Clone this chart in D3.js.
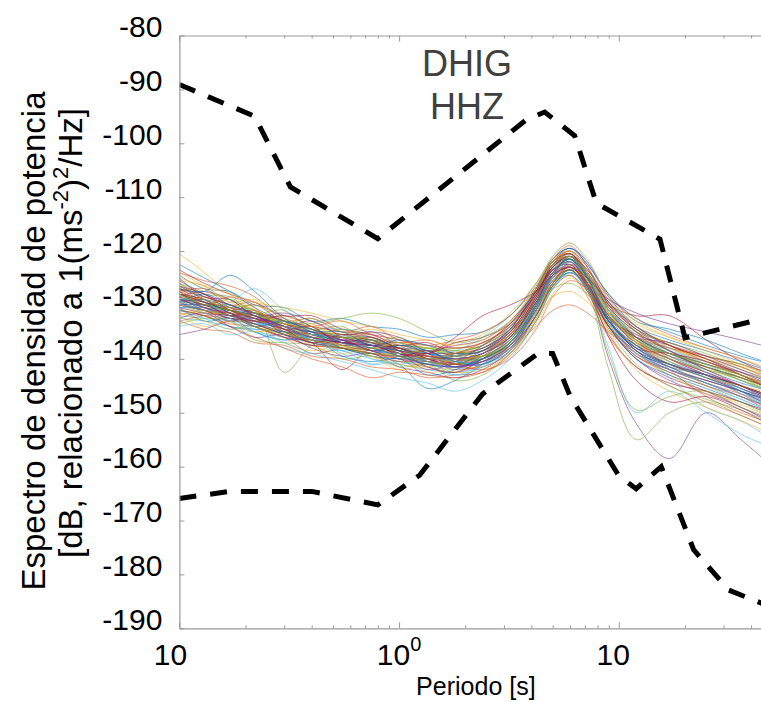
<!DOCTYPE html>
<html><head><meta charset="utf-8">
<script src="https://cdn.jsdelivr.net/npm/d3@7"></script>
<style>html,body{margin:0;padding:0;background:#fff;} svg{display:block;font-family:"Liberation Sans",Arial,Helvetica,sans-serif;}</style>
</head><body><svg id="c" width="761" height="702"></svg>
<script>
// ---------------- data ----------------
const periods = [0.1, 0.13, 0.17, 0.22, 0.3, 0.4, 0.55, 0.75, 1.0, 1.35, 1.8, 2.4, 3.2, 4.2, 5.0, 6.0, 7.2, 9.0, 12, 17, 25, 36, 50];
const psdCurves = [
 [-128,-129.5,-131,-131.5,-133,-135.5,-136,-136,-138,-139,-139.5,-138.5,-135,-128,-123,-121,-125,-131,-136,-139,-141,-143,-145],
 [-131,-132,-133.5,-134,-136,-137.5,-138,-139.5,-140.5,-141.5,-142.5,-141,-138.5,-132,-126,-123.5,-127,-133,-139,-142,-144.5,-146.5,-148.5],
 [-127,-129,-131,-133,-134,-134.5,-137,-138,-137.5,-139,-141,-140,-136,-128.5,-122.5,-120.5,-124.5,-131.5,-135.5,-138,-140.5,-143,-145],
 [-130,-130,-132,-132,-135,-137,-136,-137,-139.5,-140.5,-139,-137.5,-134.5,-130,-125.5,-123,-126,-132,-138.5,-141.5,-143,-145.5,-147.5],
 [-126.5,-128.5,-130,-131.5,-133.5,-135,-135.5,-137,-137.5,-138,-139.5,-139.5,-137,-130.5,-124,-121.5,-124,-129.5,-134,-137.5,-140,-142,-144.5],
 [-132,-132.5,-133,-133.5,-135.5,-136.5,-138.5,-138,-139.5,-141,-141,-140,-137.5,-131,-125.5,-123.5,-127.5,-134,-138,-141,-143.5,-146,-149],
 [-128.5,-131,-132,-131.5,-133,-136,-137,-137.5,-137,-139,-140.5,-139,-135.5,-128,-122,-120,-124,-131,-136.5,-139.5,-141.5,-143.5,-145.5],
 [-129.5,-129,-130.5,-133,-135,-135,-136.5,-138.5,-139,-138.5,-139.5,-140,-137,-131,-126,-124,-126.5,-132,-137,-139,-142,-144.5,-146],
 [-124,-125.5,-126.5,-128.5,-133,-135,-136,-136.5,-138.5,-140,-139.5,-138,-134.5,-127.5,-122.5,-121.5,-126,-133,-138,-141,-143,-145,-147],
 [-120.5,-124,-128,-131,-134,-135.5,-137.5,-138,-138,-139.5,-140.5,-139.5,-136.5,-130,-124.5,-122,-125,-130.5,-135,-138,-140.5,-142.5,-144],
 [-135.5,-134.5,-133,-133.5,-135,-136,-137,-138.5,-139,-140,-141.5,-140.5,-137,-130,-124.5,-122.5,-126,-133,-137.5,-141,-143,-145,-147.5],
 [-128,-130,-131,-131,-142.5,-137.5,-136,-136.5,-138,-138.5,-139,-138,-135.5,-129.5,-125,-123,-126.5,-132.5,-136,-139,-141.5,-143.5,-146],
 [-129.5,-131,-129.5,-127,-131,-134,-134.5,-135,-137,-139,-138.5,-136,-132,-127,-123,-121.5,-125.5,-132,-136,-138.5,-140.5,-142.5,-144.5],
 [-130.5,-131.5,-132,-133.5,-135.5,-137,-142,-138,-139,-141,-140,-139.5,-136.5,-130,-125,-123,-126.5,-133,-137.5,-140,-142.5,-145,-147.5],
 [-129,-130.5,-132.5,-133,-134,-136.5,-138,-139,-141,-145.5,-144,-141,-137,-131,-126,-123.5,-127,-133,-138,-141.5,-144,-146,-148],
 [-131.5,-132,-132.5,-134,-136,-137.5,-138,-139,-140,-140.5,-141,-140,-138,-134,-131,-130,-131.5,-135,-139,-142,-144,-146,-148],
 [-127.5,-129.5,-131,-132.5,-134,-135,-136,-137.5,-138.5,-139.5,-140,-139.5,-137.5,-132.5,-128.5,-127.5,-129.5,-133.5,-137,-139.5,-142,-144,-146.5],
 [-130,-131,-131.5,-132,-134,-136,-137,-137.5,-139,-139.5,-140.5,-139,-136,-129,-123.5,-121.5,-126,-140,-152,-158.5,-150,-155,-160],
 [-128,-129,-131,-133.5,-135,-135.5,-136.5,-138,-138.5,-140,-139.5,-138.5,-135.5,-128.5,-123,-121,-126.5,-142,-155,-150,-148,-150.5,-153],
 [-129,-130,-130.5,-132,-134,-136.5,-137.5,-137,-138,-139,-140,-140,-137,-130.5,-125,-122.5,-127,-138,-150,-146,-150,-154,-156.5],
 [-130,-131,-132.5,-133,-134.5,-135.5,-136,-137.5,-139,-140,-139.5,-138,-135,-129,-124.5,-123,-126,-130,-132,-132,-136.5,-140.5,-143],
 [-128.5,-130,-131,-132,-134.5,-136,-137.5,-138.5,-138,-138.5,-140.5,-140.5,-138,-132,-126.5,-123.5,-125,-129.5,-134,-136.5,-138.5,-140.5,-142.5],
 [-127,-128,-130.5,-132.5,-133.5,-135,-135.5,-136.5,-138.5,-140.5,-141,-139,-135,-127.5,-121.5,-119,-123,-131,-137.5,-141,-143.5,-145.5,-148],
 [-131,-131.5,-131,-133,-135.5,-135.5,-137,-139,-140,-139.5,-140,-140,-137.5,-131.5,-126,-124.5,-128,-134.5,-139.5,-143,-146,-148.5,-151],
 [-129.5,-131,-132.5,-132.5,-133.5,-135.5,-137,-137.5,-138,-140,-141.5,-141.5,-138.5,-130,-123,-120.5,-124.5,-132.5,-138.5,-142,-144.5,-147,-150],
 [-126,-127.5,-129,-131,-133.5,-134.5,-136,-136.5,-137,-138,-138.5,-137.5,-134,-127,-122,-120.5,-124.5,-130,-134.5,-137,-139,-141.5,-143.5],
 [-132.5,-133,-134,-135,-136,-137,-138.5,-140,-141,-142,-142.5,-141.5,-139,-133,-127,-124.5,-127.5,-134,-139,-142.5,-145,-147.5,-150],
 [-128,-129,-131.5,-133,-133,-134.5,-136.5,-138,-139,-139,-139,-138,-134.5,-127,-121.5,-119.5,-122,-128.5,-134,-137.5,-140,-143,-145.5],
 [-130,-130,-131,-132.5,-135,-136.5,-137,-136.5,-138,-140.5,-141.5,-140,-137,-131.5,-126.5,-124,-126,-131.5,-136,-139.5,-142.5,-145.5,-148],
 [-127.5,-129.5,-130.5,-131.5,-132.5,-134.5,-137,-138.5,-139.5,-140,-140,-139.5,-137.5,-132,-126,-122.5,-124.5,-129.5,-135,-140,-143,-146.5,-149.5],
 [-129,-131.5,-133,-133,-134,-135,-135.5,-137.5,-140,-141,-139.5,-137.5,-133.5,-126.5,-122,-121,-125.5,-132,-136,-138,-140,-141.5,-143.5],
 [-130.5,-130.5,-131.5,-134,-136,-136.5,-136.5,-137,-138.5,-139.5,-141,-141,-138,-131,-125,-122.5,-126.5,-134,-140,-144,-146.5,-149,-152],
 [-128,-130,-130,-131,-134,-137,-138,-138,-137.5,-138,-139,-138.5,-136,-130.5,-125.5,-123.5,-127,-133.5,-137.5,-139,-141,-143.5,-146.5],
 [-129.5,-130,-131.5,-133,-135.5,-136,-136.5,-138,-139.5,-141,-142,-140.5,-136.5,-129,-123,-120.5,-124,-131,-136,-140.5,-143.5,-146.5,-149],
 [-127,-128.5,-130,-131.5,-133,-134,-135,-135.5,-136.5,-137.5,-138,-137,-134,-128,-123.5,-122.5,-126.5,-132.5,-135.5,-137.5,-139.5,-141,-143],
 [-131,-132,-134,-134.5,-135,-136,-138,-139.5,-140,-140,-140.5,-139.5,-136.5,-129.5,-124,-121.5,-125,-133.5,-139,-141,-143,-145,-147.5],
 [-128.5,-129.5,-130.5,-131.5,-134.5,-136.5,-137.5,-137,-138,-140,-142,-141,-137.5,-130,-124,-122,-125.5,-132,-136.5,-142,-147,-150,-152],
 [-130,-131.5,-131.5,-132,-133.5,-135,-137.5,-139,-139,-138.5,-139,-139.5,-138,-133,-127,-124,-126,-131,-135.5,-138.5,-141,-143,-145],
 [-126.5,-129,-131.5,-132.5,-133.5,-135.5,-136.5,-137.5,-139,-140.5,-140.5,-138.5,-134.5,-127,-122,-120.5,-125,-132,-137,-140,-143,-146,-149],
 [-129,-130.5,-131,-132.5,-135,-136,-136,-137,-138.5,-139.5,-140,-140,-136.5,-129,-123.5,-121,-124,-130.5,-135,-138.5,-141.5,-144,-146],
 [-130.5,-130.5,-132,-133.5,-134,-135,-137,-138.5,-139,-139,-140.5,-139.5,-137,-131,-125,-122.5,-125.5,-131.5,-137,-143.5,-149,-151.5,-155],
 [-128,-129.5,-131,-132,-134,-136,-137,-137.5,-138,-140,-141,-139,-135.5,-128.5,-122.5,-120,-123,-130,-136,-139,-141.5,-143.5,-145.5],
 [-124.5,-127,-127.5,-130,-130.5,-133,-132.5,-134,-134.5,-136,-135.5,-135,-132,-126,-121.5,-119.5,-122.5,-128,-132.5,-135,-137.5,-139.5,-141],
 [-133,-134.5,-135,-137,-137.5,-139.5,-140,-141.5,-142,-143.5,-143,-142.5,-139.5,-133,-127,-124.5,-128.5,-136,-141.5,-145,-148,-150.5,-153],
 [-125.5,-126.5,-129.5,-129,-132,-133.5,-135.5,-134.5,-136.5,-138,-137,-135.5,-131.5,-126,-121.5,-120,-123.5,-129,-133.5,-136,-138,-140,-142],
 [-132.5,-131.5,-134,-136,-135.5,-138,-139.5,-139,-141.5,-142.5,-143.5,-142,-138.5,-132,-126,-123,-126,-134,-140,-143.5,-146,-149,-151.5],
 [-126,-128,-128.5,-131.5,-131,-134.5,-134,-137,-136,-138.5,-138,-137.5,-133,-127.5,-122.5,-121,-124.5,-131,-135,-137,-139.5,-141,-143.5],
 [-134,-133.5,-135.5,-135,-138,-139,-138.5,-141,-140.5,-141.5,-143,-141,-138,-131.5,-125,-122,-125.5,-133,-139,-142.5,-145,-147.5,-150],
 [-123.5,-126,-128,-129.5,-132,-132,-134.5,-135.5,-137.5,-137,-139,-138.5,-135,-128,-122.5,-120.5,-124,-130,-134.5,-137.5,-140,-142.5,-145],
 [-130.5,-133,-132.5,-135,-136.5,-136,-139.5,-140.5,-140,-143,-142,-140,-137,-130,-124,-121.5,-125,-132.5,-138.5,-141.5,-144.5,-147,-149],
 [-127.5,-127,-130,-129.5,-133.5,-134,-133,-135.5,-137,-136.5,-138,-137,-133.5,-127,-122,-120.5,-125,-132,-136,-138,-139.5,-141.5,-144],
 [-131.5,-133,-134.5,-134,-137,-138.5,-137.5,-139.5,-142,-141,-142.5,-142,-139,-133.5,-128,-125,-127.5,-133.5,-139,-143,-146.5,-148,-150.5],
 [-125,-128.5,-129,-132,-131.5,-133,-135.5,-135,-136,-138.5,-137.5,-136.5,-133,-127.5,-123,-121,-124.5,-130.5,-135,-138.5,-141,-142.5,-144.5],
 [-133.5,-132.5,-133,-136.5,-137,-137.5,-140,-139.5,-141.5,-141,-144,-143,-139,-132.5,-126.5,-123.5,-126.5,-134.5,-141,-145,-147.5,-149.5,-152],
 [-129,-131,-130,-133.5,-133,-136.5,-135.5,-138,-137,-141,-139.5,-138,-134,-127,-121,-118.5,-122,-129,-134,-138,-141,-144,-146.5],
 [-127,-129.5,-132,-131,-134.5,-134,-137.5,-136.5,-139.5,-138.5,-141,-140.5,-137.5,-131,-125.5,-123.5,-127.5,-135.5,-141.5,-144.5,-146,-148,-150],
 [-122.5,-125,-127.5,-130.5,-133,-134.5,-136,-137.5,-138.5,-139,-140,-139,-136,-129.5,-124,-122,-126,-133,-137.5,-140.5,-143,-145,-147],
 [-130,-128.5,-131,-130,-133,-132.5,-135,-134,-136.5,-137.5,-136.5,-135,-132,-126.5,-122.5,-121,-123.5,-128.5,-132.5,-135.5,-138,-140,-142.5],
 [-132,-134,-133,-135,-134.5,-137.5,-139,-138,-139.5,-142.5,-141.5,-141.5,-138.5,-131.5,-125.5,-122.5,-126.5,-135,-142,-146,-149,-151.5,-154],
 [-128.5,-127.5,-129,-132,-134,-133,-136,-138.5,-137.5,-139,-141.5,-139.5,-135.5,-128.5,-123,-121.5,-126,-132.5,-136,-137,-139.5,-142,-144],
 [-126,-129,-130.5,-130,-132.5,-135.5,-134.5,-136,-138,-140,-139,-137.5,-134.5,-130,-127,-126,-128,-132.5,-136.5,-139,-141.5,-144,-146],
 [-131,-130,-132.5,-134.5,-136.5,-135.5,-137,-140,-141,-140,-140.5,-141,-138.5,-131,-124.5,-121.5,-124,-131.5,-138,-141,-143,-145.5,-148.5],
 [-127.5,-130.5,-131.5,-133,-132,-134,-137,-136,-138.5,-141.5,-142.5,-140,-136,-129,-123.5,-122,-126.5,-136,-144,-148,-147,-149.5,-152.5],
 [-129.5,-128,-130,-131.5,-134,-135,-135,-137.5,-136.5,-137.5,-139,-138.5,-134.5,-127.5,-122,-119.5,-122.5,-128,-133,-134.5,-136.5,-139,-141],
 [-133,-132,-131.5,-134,-136,-139,-138,-138.5,-140.5,-140,-141,-142,-140,-134.5,-128.5,-125.5,-127,-132,-137,-140,-142.5,-145,-147],
 [-124,-126.5,-129.5,-131,-133.5,-134,-136,-138,-137,-139.5,-140.5,-139,-135.5,-128,-122,-120,-124,-131.5,-137,-141,-145,-148,-151],
 [-130,-131,-133,-132,-135.5,-137.5,-136.5,-137,-139,-142,-140.5,-137.5,-133.5,-127.5,-123.5,-122.5,-127,-134,-139.5,-142,-144,-146,-148],
 [-128,-130,-129,-131.5,-133.5,-132.5,-135,-136.5,-139,-138,-138.5,-139.5,-137,-130.5,-124.5,-121.5,-124.5,-130.5,-136.5,-140,-142,-143.5,-145.5],
 [-131,-132.5,-134.5,-133.5,-134,-136.5,-139,-141,-139.5,-140.5,-143,-141.5,-137.5,-130.5,-124.5,-122,-125,-131,-135.5,-139,-142.5,-146,-149.5],
 [-126.5,-128,-131,-132.5,-134.5,-137,-135.5,-136,-138,-139,-137,-136,-133.5,-128,-123,-121,-125,-133,-138,-139,-140.5,-143,-146],
 [-129,-129.5,-131.5,-134,-133,-135,-138,-139,-137.5,-138.5,-140.5,-141,-138,-132,-126.5,-124,-127,-134,-140,-143,-145.5,-148,-150.5],
 [-127,-130,-128.5,-130.5,-135,-136.5,-137,-135,-137.5,-139.5,-139,-137,-134,-128.5,-124,-123,-126,-130,-134,-137.5,-140.5,-143,-145.5],
 [-132,-131,-133,-135,-134,-136,-137.5,-139.5,-141,-141.5,-140,-139.5,-137,-131.5,-126,-123,-125.5,-131.5,-137,-140.5,-143.5,-145,-146.5],
 [-125.5,-128,-130,-132,-134,-135,-136.5,-138.5,-140,-141,-141.5,-140.5,-137.5,-130.5,-124.5,-121,-123.5,-129.5,-134.5,-138.5,-142,-145,-148],
 [-128,-130,-131,-132,-133,-133.5,-132.5,-131.5,-132.5,-135,-137,-136,-133,-127,-122.5,-121,-125,-132,-136.5,-139,-141,-143,-145],
 [-130,-131.5,-133,-135,-137,-139,-140.5,-142,-143.5,-144.5,-146,-144,-140,-133,-127,-124,-127,-133.5,-139,-142,-144.5,-147,-149],
 [-129,-130,-132,-133.5,-135.5,-137,-138,-139,-139.5,-139,-136,-132,-130,-127.5,-124.5,-123,-126.5,-134,-138.5,-141,-143,-145,-147],
 [-127,-127.5,-124.5,-127.5,-132.5,-135,-137,-138,-139.5,-141,-141.5,-140,-137,-130,-124,-121.5,-125,-133,-138,-141,-143.5,-146,-148.5],
 [-131,-132,-134,-136,-138,-140,-141.5,-143.5,-142.5,-143,-143.5,-142.5,-139,-132,-126,-123,-126.5,-134,-139.5,-142.5,-145,-147,-149.5],
 [-125,-126.5,-128,-129.5,-130.5,-131.5,-133,-134,-135.5,-136.5,-137.5,-136.5,-133,-126.5,-121,-118.5,-121.5,-128.5,-133,-136,-138.5,-141,-143],
 [-129,-130.5,-132,-133,-134.5,-136,-137,-137.5,-138.5,-139.5,-140,-139,-136,-129.5,-124.5,-123,-125,-129,-131.5,-133.5,-135,-136.5,-138],
 [-130,-131,-132,-134,-135.5,-136.5,-138,-139,-139.5,-140.5,-141,-139.5,-136.5,-130,-124,-121,-126,-139,-149.5,-147,-146,-149,-151]
];
const highNoisePeriods = [0.1, 0.22, 0.32, 0.8, 3.8, 4.6, 6.3, 7.9, 15.4, 20, 100];
const highNoiseValues  = [-89.1, -95.0, -108.1, -117.7, -95.6, -94.2, -98.6, -111.1, -117.8, -136.1, -129.1];
const lowNoisePeriods  = [0.1, 0.17, 0.4, 0.8, 1.24, 2.4, 4.3, 5.0, 6.0, 10.0, 12.0, 15.6, 21.9, 31.6, 45, 70];
const lowNoiseValues   = [-165.9, -164.6, -164.6, -167.1, -161.6, -146.5, -139.0, -139.0, -146.9, -161.7, -164.1, -160.0, -175.4, -182.9, -185.4, -186.9];
const yTickValues = [-80, -90, -100, -110, -120, -130, -140, -150, -160, -170, -180, -190];
const xTickValues = [0.1, 1, 10];
const xTickExponents = ["-1", "0", "1"];
const xTickExponentShown = [false, true, false];
const xMinorTicks = [0.2,0.3,0.4,0.5,0.6,0.7,0.8,0.9,2,3,4,5,6,7,8,9,20,30,40,50];
const titleLines = ["DHIG", "HHZ"];
const xAxisTitle = "Periodo [s]";
const palette = ["#0072BD","#D95319","#EDB120","#7E2F8E","#77AC30","#4DBEEE","#A2142F"];

// ---------------- layout ----------------
const L = 179.4, T = 35.5, B = 628.3, DEC = 219.7;
const R = L + DEC * Math.log10(500);
const svg = d3.select("#c");
const x = d3.scaleLog().domain([0.1, 50]).range([L, R]);
const y = d3.scaleLinear().domain([-190, -80]).range([B, T]);
const axisColor = "#9a9a9a";

svg.append("defs").append("clipPath").attr("id","clip")
  .append("rect").attr("x", L).attr("y", T).attr("width", R - L).attr("height", B - T);

// PSD curves
const line = d3.line().x((d,i)=>x(periods[i])).y(d=>y(d)).curve(d3.curveCatmullRom.alpha(0.5));
const gCurves = svg.append("g").attr("clip-path","url(#clip)");
gCurves.selectAll("path.psd").data(psdCurves).join("path")
  .attr("class","psd").attr("d", line)
  .attr("fill","none").attr("stroke",(d,i)=>palette[i % palette.length])
  .attr("stroke-width",0.9).attr("stroke-opacity",0.65);

// noise models
const nline = d3.line().x(d=>x(d[0])).y(d=>y(d[1]));
const gNoise = svg.append("g").attr("clip-path","url(#clip)");
[[highNoisePeriods, highNoiseValues],[lowNoisePeriods, lowNoiseValues]].forEach(([p,v])=>{
  gNoise.append("path").attr("d", nline(p.map((pp,i)=>[pp, v[i]])))
    .attr("fill","none").attr("stroke","#000").attr("stroke-width",5)
    .attr("stroke-dasharray","17,14").attr("stroke-linejoin","miter");
});

// axes
function styleAxis(g){
  g.selectAll("path.domain").attr("stroke", axisColor).attr("stroke-width",1.2);
  g.selectAll(".tick line").attr("stroke", axisColor).attr("stroke-width",1);
}
const gb = svg.append("g").attr("transform",`translate(0,${B})`)
  .call(d3.axisTop(x).tickValues(xTickValues).tickSize(6).tickSizeOuter(0).tickFormat(""));
styleAxis(gb);
const gbm = svg.append("g").attr("transform",`translate(0,${B})`)
  .call(d3.axisTop(x).tickValues(xMinorTicks).tickSize(3).tickSizeOuter(0).tickFormat(""));
styleAxis(gbm); gbm.select("path.domain").remove();
const gt = svg.append("g").attr("transform",`translate(0,${T})`)
  .call(d3.axisBottom(x).tickValues(xTickValues).tickSize(6).tickSizeOuter(0).tickFormat(""));
styleAxis(gt);
const gtm = svg.append("g").attr("transform",`translate(0,${T})`)
  .call(d3.axisBottom(x).tickValues(xMinorTicks).tickSize(3).tickSizeOuter(0).tickFormat(""));
styleAxis(gtm); gtm.select("path.domain").remove();
const gl = svg.append("g").attr("transform",`translate(${L},0)`)
  .call(d3.axisLeft(y).tickValues(yTickValues).tickSize(-5).tickSizeOuter(0).tickPadding(17).tickFormat(d => String(d)));
styleAxis(gl);
gl.selectAll(".tick text").attr("font-size","30px").attr("fill","#000")
  .attr("dy","0").attr("y", 1).attr("font-family","'Liberation Sans',Arial,Helvetica,sans-serif");

// x tick labels
xTickValues.forEach((v,i)=>{
  const t = svg.append("text").attr("x",0).attr("y",B+37).attr("font-size","30px").attr("fill","#000");
  t.append("tspan").text("10");
  const sup = t.append("tspan").attr("font-size","20px").attr("dy",-14).text(xTickExponents[i]);
  const w = t.node().getComputedTextLength();
  t.attr("x", x(v) - w/2);
  if (!xTickExponentShown[i]) sup.remove();
});

// x axis title
svg.append("text").attr("x", (L+R)/2).attr("y", 695).attr("text-anchor","middle")
  .attr("font-size","25px").attr("fill","#000").text(xAxisTitle);

// y axis title
svg.append("text").attr("transform",`translate(45,341) rotate(-90)`)
  .attr("text-anchor","middle").attr("font-size","33px").attr("fill","#000")
  .text("Espectro de densidad de potencia");
const yt2 = svg.append("text").attr("transform",`translate(82,333) rotate(-90)`)
  .attr("text-anchor","middle").attr("font-size","33px").attr("fill","#000");
yt2.append("tspan").text("[dB, relacionado a 1(ms");
yt2.append("tspan").attr("font-size","22px").attr("dy",-14).text("-2");
yt2.append("tspan").attr("dy",14).text(")");
yt2.append("tspan").attr("font-size","22px").attr("dy",-14).text("2");
yt2.append("tspan").attr("dy",14).text("/Hz]");

// title
titleLines.forEach((s,i)=>{
  svg.append("text").attr("x",467).attr("y",[76,119][i]).attr("text-anchor","middle")
    .attr("font-size","36px").attr("fill","#404040").text(s);
});
</script></body></html>
